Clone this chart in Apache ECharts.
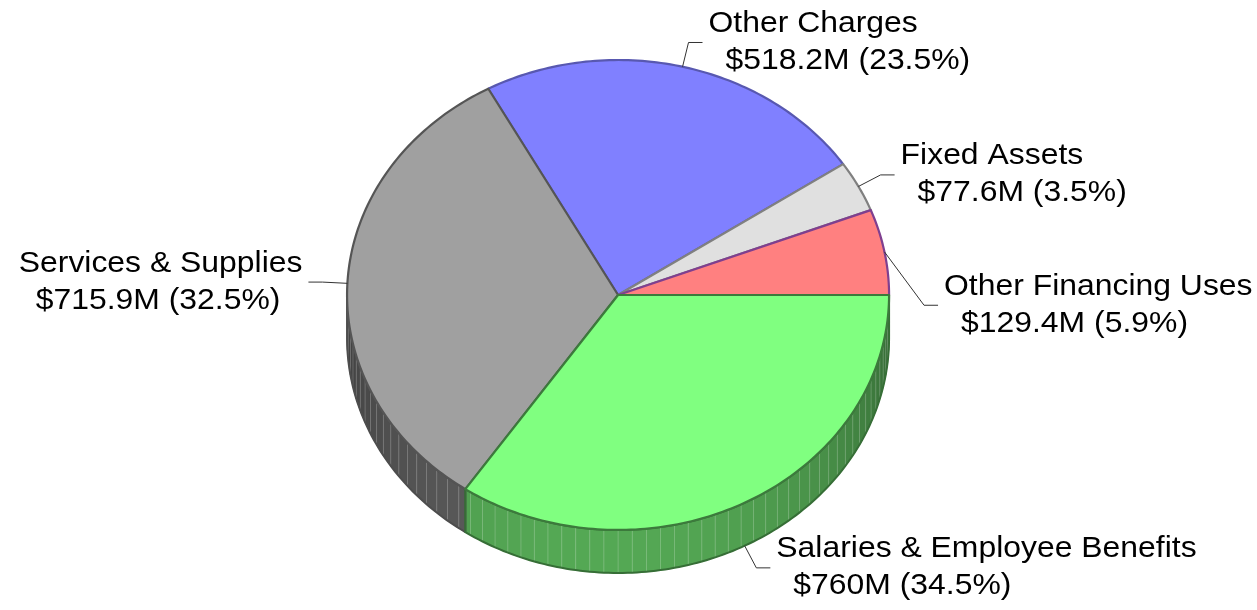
<!DOCTYPE html>
<html style="height: 100%">
  <head>
    <meta charset="utf-8" />
  </head>
  <body style="height: 100%; margin: 0; background: #fff">
    <div id="container" style="height: 100%"></div>

    <script
      type="text/javascript"
      src="https://cdn.jsdelivr.net/npm/echarts@6/dist/echarts.min.js"
    ></script>

    <script type="text/javascript">
      var categories = [
        "Other Financing Uses",
        "Fixed Assets",
        "Other Charges",
        "Services & Supplies",
        "Salaries & Employee Benefits",
      ];
      var values = [129.4, 77.6, 518.2, 715.9, 760];

      // styling
      var topColors = ["#ff8080", "#e0e0e0", "#8080ff", "#a0a0a0", "#80ff80"];
      var sideColors = ["#ff8080", "#e0e0e0", "#8080ff", "#8c8c8c", "#80ff80"];
      var borderColors = ["#7f3f8f", "#808080", "#5858b0", "#555555", "#3c7a3c"];
      var topOrder = [3, 1, 0, 2, 4];
      var labelNudge = { "Other Financing Uses": [15, 58] };

      var FONT = '29px "Liberation Sans", Arial, sans-serif';
      var TEXT_SCALE = 1.1;
      var LINE_GAP = 18.5;
      var INDENT = 17;

      var total = values.reduce(function (a, b) {
        return a + b;
      }, 0);
      var startAngles = [];
      var endAngles = [];
      var acc = 0;
      values.forEach(function (v) {
        startAngles.push((acc / total) * 360);
        acc += v;
        endAngles.push((acc / total) * 360);
      });

      var measureCtx = document.createElement("canvas").getContext("2d");
      measureCtx.font = FONT;
      function textWidth(s) {
        return measureCtx.measureText(s).width * TEXT_SCALE;
      }

      function geom(api) {
        var w = api.getWidth(),
          h = api.getHeight();
        return {
          cx: w * 0.4917,
          cy: h * 0.4836,
          rx: w * 0.2156,
          ry: h * 0.3852,
          depth: h * 0.0705,
        };
      }

      function pt(g, deg, down) {
        var r = (deg * Math.PI) / 180;
        return [g.cx + g.rx * Math.cos(r), g.cy - g.ry * Math.sin(r) + (down || 0)];
      }

      function shade(hex, f) {
        var n = parseInt(hex.slice(1), 16);
        var r = Math.round(((n >> 16) & 255) * f);
        var gg = Math.round(((n >> 8) & 255) * f);
        var b = Math.round((n & 255) * f);
        return "rgb(" + r + "," + gg + "," + b + ")";
      }

      function sideFactor(deg) {
        return 0.42 + 0.24 * Math.cos(((deg - 265) * Math.PI) / 180);
      }

      function renderSide(params, api) {
        var i = params.dataIndex;
        var g = geom(api);
        var a0 = Math.max(startAngles[i], 180);
        var a1 = Math.min(endAngles[i], 360);
        if (a1 <= a0) return;
        var step = 3;
        var marks = [a0];
        var t = Math.ceil(a0 / step) * step;
        if (t === a0) t += step;
        for (; t < a1; t += step) marks.push(t);
        marks.push(a1);

        var children = [];
        for (var k = 0; k < marks.length - 1; k++) {
          var s = marks[k],
            e = marks[k + 1];
          var pts = [];
          for (var d = s; d < e; d += 1) pts.push(pt(g, d));
          pts.push(pt(g, e));
          for (var d2 = e; d2 > s; d2 -= 1) pts.push(pt(g, d2, g.depth));
          pts.push(pt(g, s, g.depth));
          var fill = shade(sideColors[i], sideFactor((s + e) / 2));
          children.push({
            type: "polygon",
            shape: { points: pts },
            style: { fill: fill, stroke: fill, lineWidth: 0.6 },
            z2: 1,
          });
          if (k > 0) {
            var p1 = pt(g, s),
              p2 = pt(g, s, g.depth);
            children.push({
              type: "line",
              shape: { x1: p1[0], y1: p1[1], x2: p2[0], y2: p2[1] },
              style: { stroke: "rgba(255,255,255,0.2)", lineWidth: 1 },
              z2: 2,
            });
          }
        }
        // outline of side piece
        var outline = [];
        for (var d3 = a0; d3 < a1; d3 += 1) outline.push(pt(g, d3));
        outline.push(pt(g, a1));
        for (var d4 = a1; d4 > a0; d4 -= 1) outline.push(pt(g, d4, g.depth));
        outline.push(pt(g, a0, g.depth));
        children.push({
          type: "polygon",
          shape: { points: outline },
          style: {
            fill: null,
            stroke: shade(borderColors[i], 0.9),
            lineWidth: 2,
            lineJoin: "round",
          },
          z2: 3,
        });
        return { type: "group", children: children };
      }

      function renderTop(params, api) {
        var i = params.dataIndex;
        var g = geom(api);
        var a0 = startAngles[i],
          a1 = endAngles[i];
        var pts = [[g.cx, g.cy]];
        for (var d = a0; d < a1; d += 1) pts.push(pt(g, d));
        pts.push(pt(g, a1));

        var children = [
          {
            type: "polygon",
            shape: { points: pts },
            style: {
              fill: topColors[i],
              stroke: borderColors[i],
              lineWidth: 2.2,
              lineJoin: "round",
            },
            z2: 10 + topOrder[i],
          },
        ];

        // label with leader line
        var mid = (a0 + a1) / 2;
        var r = (mid * Math.PI) / 180;
        var c = Math.cos(r),
          sn = Math.sin(r);
        var right = c >= 0;
        var p = pt(g, mid, sn < 0 ? g.depth : 0);
        var nudge = labelNudge[categories[i]] || [0, 0];
        var elbow = [p[0] + c * 25 + nudge[0], p[1] - sn * 25 + nudge[1]];
        var end = [elbow[0] + (right ? 14 : -14), elbow[1]];
        children.push({
          type: "polyline",
          shape: { points: [p, elbow, end] },
          style: { stroke: "#333", lineWidth: 1, fill: null },
          z2: 50,
        });

        var line1 = categories[i];
        var line2 =
          "$" + values[i] + "M (" + ((values[i] / total) * 100).toFixed(1) + "%)";
        var blockW = Math.max(textWidth(line1), INDENT + textWidth(line2));
        var tx = right ? end[0] + 6 : end[0] - 6 - blockW;
        [
          [line1, tx, elbow[1] - LINE_GAP],
          [line2, tx + INDENT, elbow[1] + LINE_GAP],
        ].forEach(function (L) {
          children.push({
            type: "text",
            x: L[1],
            y: L[2],
            scaleX: TEXT_SCALE,
            style: {
              text: L[0],
              x: 0,
              y: 0,
              font: FONT,
              fill: "#000",
              align: "left",
              verticalAlign: "middle",
            },
            z2: 60,
          });
        });

        return { type: "group", children: children };
      }

      var dom = document.getElementById("container");
      var myChart = echarts.init(dom);

      var option = {
        backgroundColor: "#fff",
        animation: false,
        series: [
          {
            type: "custom",
            coordinateSystem: "none",
            renderItem: renderSide,
            data: values,
            silent: true,
            z: 1,
          },
          {
            type: "custom",
            coordinateSystem: "none",
            renderItem: renderTop,
            data: values,
            silent: true,
            z: 2,
          },
        ],
      };

      myChart.setOption(option);
    </script>
  </body>
</html>
